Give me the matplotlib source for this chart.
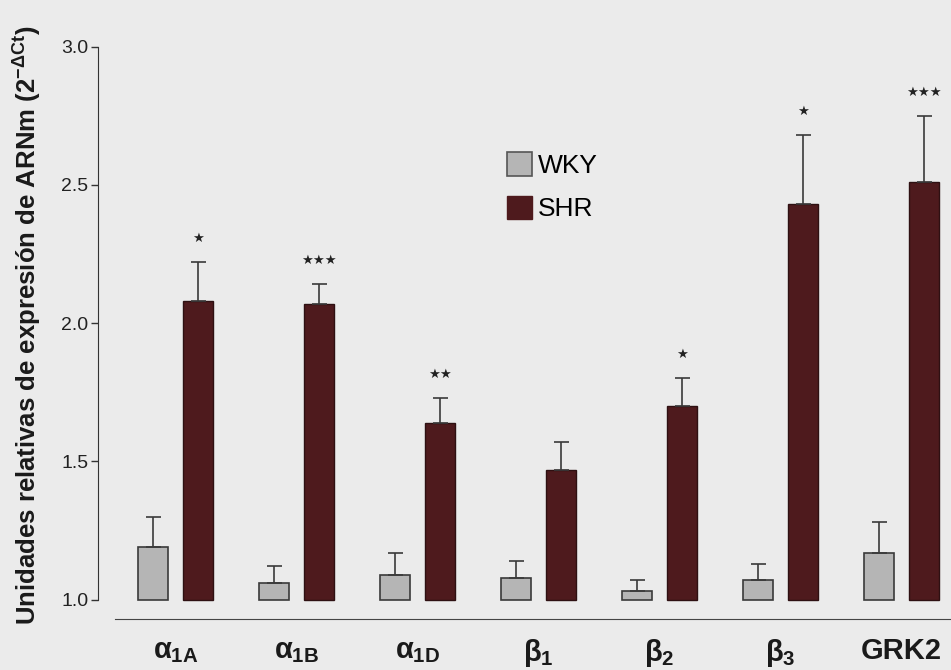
import matplotlib
matplotlib.use("Agg")
import matplotlib.pyplot as plt
import numpy as np
from matplotlib.patches import Patch

# Expresión relativa de ARNm (2^-ΔCt), media y error estándar
receptores = [r"$\alpha_{1A}$", r"$\alpha_{1B}$", r"$\alpha_{1D}$",
              r"$\beta_{1}$", r"$\beta_{2}$", r"$\beta_{3}$", "GRK2"]
wky_media = [1.19, 1.06, 1.09, 1.08, 1.03, 1.07, 1.17]
wky_error = [0.11, 0.06, 0.08, 0.06, 0.04, 0.06, 0.11]
shr_media = [2.08, 2.07, 1.64, 1.47, 1.70, 2.43, 2.51]
shr_error = [0.14, 0.07, 0.09, 0.10, 0.10, 0.25, 0.24]
significancia = ["*", "***", "**", "", "*", "*", "***"]

fondo = "#ebebeb"
gris = "#b5b5b5"
granate = "#4e1a1d"
borde = "#3a3a3a"

plt.rcParams["font.family"] = ["Liberation Sans", "DejaVu Sans"]
plt.rcParams["mathtext.fontset"] = "custom"
plt.rcParams["mathtext.rm"] = "Liberation Sans:bold"
plt.rcParams["mathtext.it"] = "Liberation Sans:bold"
plt.rcParams["mathtext.bf"] = "Liberation Sans:bold"

fig = plt.figure(figsize=(9.51, 6.70), dpi=100, facecolor=fondo)
ax = fig.add_axes([0.103, 0.0761, 0.897, 0.8542], facecolor=fondo)

base = 1.0
x = np.arange(len(receptores))
ancho = 0.25
x_wky = x - 0.1875
x_shr = x + 0.1875

ax.bar(x_wky, np.array(wky_media) - base, ancho, bottom=base,
       color=gris, edgecolor=borde, linewidth=1.2, label="WKY")
ax.bar(x_shr, np.array(shr_media) - base, ancho, bottom=base,
       color=granate, edgecolor="#2e1012", linewidth=1.0, label="SHR")

# solo la barra de error superior
ax.errorbar(x_wky, wky_media, yerr=[np.zeros(len(x)), wky_error],
            fmt="none", ecolor=borde, elinewidth=1.2, capsize=5.4, capthick=1.2)
ax.errorbar(x_shr, shr_media, yerr=[np.zeros(len(x)), shr_error],
            fmt="none", ecolor=borde, elinewidth=1.2, capsize=5.4, capthick=1.2)

# asteriscos de significación sobre las barras SHR
for xi, m, e, s in zip(x_shr, shr_media, shr_error, significancia):
    if s:
        ax.annotate("\u2605" * len(s), xy=(xi, m + e), xytext=(0, 17),
                    textcoords="offset points", ha="center", va="center",
                    fontsize=9.5, color="#222222", family="DejaVu Sans")

ax.set_xlim(-0.64, 6.41)
ax.set_ylim(0.93, 3.0)
ax.set_yticks([1.0, 1.5, 2.0, 2.5, 3.0])
ax.set_yticklabels(["1.0", "1.5", "2.0", "2.5", "3.0"])
ax.tick_params(axis="y", direction="out", length=5, width=1,
               labelsize=14, colors="#333333", labelcolor="#222222", pad=2)

ax.set_xticks(x)
ax.set_xticklabels(receptores, fontsize=21, fontweight="bold", color="#1a1a1a")
ax.tick_params(axis="x", length=0, pad=13)

for lado in ["top", "right"]:
    ax.spines[lado].set_visible(False)
ax.spines["left"].set_bounds(1.0, 3.0)
ax.spines["left"].set_color("#333333")
ax.spines["bottom"].set_bounds(-0.5, 6.41)
ax.spines["bottom"].set_color("#444444")

fig.text(0.029, 0.515, r"Unidades relativas de expresión de ARNm (2$^{\mathregular{-\Delta Ct}}$)",
         rotation=90, ha="center", va="center", fontsize=18.5, fontweight="bold",
         color="#1a1a1a")

manijas = [Patch(facecolor=gris, edgecolor="#555555", linewidth=1.2),
           Patch(facecolor=granate, edgecolor=granate)]
fig.legend(manijas, ["WKY", "SHR"], loc="upper left", bbox_to_anchor=(0.533, 0.773),
           frameon=False, fontsize=19, handlelength=0.95, handleheight=1.0,
           handletextpad=0.23, labelspacing=0.67, borderpad=0, borderaxespad=0)

fig.savefig("out.png", dpi=100, facecolor=fondo)
